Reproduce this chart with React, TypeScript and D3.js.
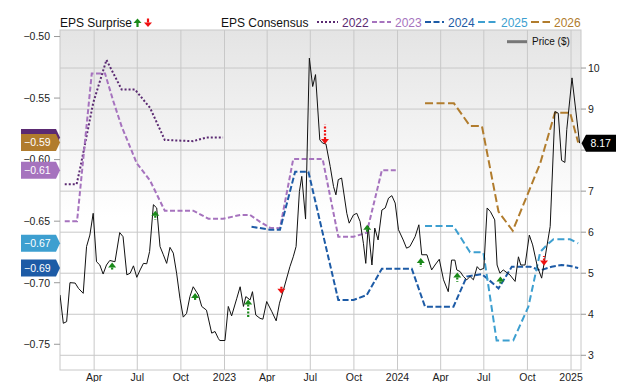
import React from "react";
import * as d3 from "d3";

const W = 640;
const H = 382;
const PL = 60, PR = 581, PT = 30, PB = 370;
const FONT = "'Liberation Sans', Arial, Helvetica, sans-serif";

// ---------- Data ----------
const priceDates = [
  "2022-01-19","2022-01-26","2022-02-02","2022-02-09","2022-02-20","2022-02-27","2022-03-09","2022-03-16","2022-03-23","2022-03-30",
  "2022-04-06","2022-04-13","2022-04-20","2022-04-27","2022-05-04","2022-05-15","2022-05-25","2022-06-01","2022-06-09","2022-06-16",
  "2022-06-23","2022-06-30","2022-07-07","2022-07-14","2022-07-21","2022-07-27","2022-08-04","2022-08-11","2022-08-18","2022-08-25",
  "2022-09-01","2022-09-08","2022-09-15","2022-09-22","2022-09-29","2022-10-06","2022-10-13","2022-10-20","2022-10-27","2022-11-07",
  "2022-11-14","2022-11-24","2022-12-05","2022-12-12","2022-12-19","2022-12-22","2023-01-02","2023-01-09","2023-01-16","2023-01-27",
  "2023-02-03","2023-02-10","2023-02-15","2023-02-24","2023-03-01","2023-03-08","2023-03-17","2023-03-23","2023-03-31","2023-04-11",
  "2023-04-20","2023-04-27","2023-05-05","2023-05-19","2023-05-26","2023-06-01","2023-06-08","2023-06-13","2023-06-21","2023-06-29",
  "2023-07-06","2023-07-12","2023-07-21","2023-07-27","2023-08-03","2023-08-12","2023-08-19","2023-08-24","2023-08-29","2023-09-05",
  "2023-09-16","2023-09-21","2023-09-30","2023-10-07","2023-10-14","2023-10-21","2023-10-26","2023-10-31","2023-11-08","2023-11-14",
  "2023-11-21","2023-11-29","2023-12-06","2023-12-13","2023-12-20","2023-12-27","2024-01-03","2024-01-13","2024-01-20","2024-01-27",
  "2024-02-07","2024-02-15","2024-02-21","2024-03-03","2024-03-13","2024-03-20","2024-03-29","2024-04-07","2024-04-17","2024-04-24",
  "2024-05-01","2024-05-05","2024-05-12","2024-05-19","2024-05-26","2024-06-02","2024-06-09","2024-06-17","2024-06-23","2024-07-01",
  "2024-07-08","2024-07-15","2024-07-24","2024-07-29","2024-08-04","2024-08-11","2024-08-25","2024-09-05","2024-09-12","2024-09-17",
  "2024-09-26","2024-10-05","2024-10-12","2024-10-22","2024-10-31","2024-11-18","2024-11-28","2024-12-05","2024-12-12","2024-12-19",
  "2024-12-23","2025-01-03","2025-01-19"
];
const priceValues = [
  4.47,3.78,3.82,4.77,4.76,4.63,4.51,5.65,5.93,6.46,
  5.28,5.20,4.98,5.20,5.31,5.28,5.99,5.89,4.96,5.00,
  5.18,4.90,5.08,5.24,5.23,5.53,6.67,6.59,5.65,5.45,
  5.24,5.63,5.49,5.00,4.39,3.93,4.02,4.43,4.67,4.47,
  4.19,4.10,3.54,3.58,3.41,3.36,3.36,4.19,3.96,4.39,
  4.67,4.19,4.43,4.35,4.55,3.98,3.90,3.88,4.31,4.06,
  3.84,4.27,4.58,5.16,5.40,5.65,6.99,7.36,6.32,10.24,
  9.55,9.84,8.25,8.17,8.15,7.60,7.11,6.91,7.28,7.32,
  6.46,6.22,6.42,6.46,6.26,5.73,5.24,6.14,5.20,6.10,
  5.81,6.54,6.59,6.83,6.89,6.71,6.06,5.81,5.61,5.65,
  5.89,6.18,5.45,5.45,5.08,5.20,5.34,4.84,4.55,5.32,
  5.32,5.08,5.04,4.92,4.84,4.92,4.84,5.16,5.08,5.12,
  6.59,6.50,6.30,5.20,5.00,5.08,4.96,4.80,5.40,5.20,
  5.20,5.93,5.69,5.16,4.88,6.14,8.94,8.90,7.75,7.70,
  8.50,9.76,8.17
];

const eps2022Dates = ["2022-01-29","2022-02-23","2022-03-02","2022-03-30","2022-04-27","2022-05-29","2022-06-26","2022-07-28","2022-08-28","2022-10-27","2022-11-24","2022-12-29"];
const eps2022Values = [-0.62,-0.62,-0.608,-0.554,-0.519,-0.543,-0.543,-0.558,-0.584,-0.585,-0.582,-0.582];

const eps2023Dates = ["2022-01-29","2022-02-24","2022-03-27","2022-04-24","2022-05-11","2022-05-29","2022-06-30","2022-07-28","2022-08-28","2022-10-27","2022-11-28","2022-12-29","2023-02-03","2023-02-24","2023-03-17","2023-04-07","2023-04-28","2023-05-26","2023-07-27","2023-08-29","2023-09-30","2023-10-28","2023-11-29","2023-12-30"];
const eps2023Values = [-0.65,-0.65,-0.53,-0.53,-0.552,-0.573,-0.603,-0.617,-0.6415,-0.6415,-0.648,-0.648,-0.645,-0.645,-0.6505,-0.6553,-0.6558,-0.5995,-0.5995,-0.6626,-0.6626,-0.6594,-0.6086,-0.6086];

const eps2024Dates = ["2023-02-27","2023-04-07","2023-04-28","2023-05-30","2023-06-27","2023-08-29","2023-09-30","2023-10-28","2023-11-29","2024-01-31","2024-02-28","2024-04-28","2024-05-26","2024-06-27","2024-07-11","2024-08-01","2024-08-29","2024-10-07","2024-10-28","2024-11-21","2024-12-12","2024-12-30","2025-01-16"];
const eps2024Values = [-0.6545,-0.657,-0.657,-0.6098,-0.6098,-0.714,-0.714,-0.71,-0.6886,-0.6886,-0.7195,-0.7195,-0.695,-0.693,-0.6975,-0.7046,-0.687,-0.687,-0.69,-0.687,-0.6856,-0.6864,-0.688];

const eps2025Dates = ["2024-02-28","2024-04-28","2024-06-02","2024-06-30","2024-07-28","2024-09-01","2024-10-03","2024-10-28","2024-11-12","2024-11-25","2024-12-30","2025-01-16"];
const eps2025Values = [-0.654,-0.654,-0.6753,-0.6753,-0.747,-0.747,-0.7195,-0.675,-0.669,-0.6647,-0.6647,-0.668];

const eps2026Dates = ["2024-02-28","2024-04-29","2024-06-02","2024-06-27","2024-08-01","2024-08-31","2024-10-28","2024-11-28","2024-12-30","2025-01-16"];
const eps2026Values = [-0.5543,-0.5543,-0.5727,-0.5727,-0.6423,-0.6578,-0.603,-0.5619,-0.5619,-0.586];

const surpriseDates = ["2022-05-09","2022-08-08","2022-10-31","2023-02-20","2023-05-01","2023-08-01","2023-10-29","2024-02-19","2024-05-06","2024-08-05","2024-11-05"];
const surpriseKinds = ["up","up","up","up","down","down","up","up","up","up","down"];
const surpriseTips = [5.26,6.52,4.52,4.36,4.50,8.15,6.18,5.37,5.02,4.92,5.19];
const surpriseTails = [5.08,6.30,4.32,3.90,4.69,8.62,6.01,5.15,4.79,4.74,5.42];

const leftTicks = [-0.75,-0.7,-0.65,-0.6,-0.55,-0.5];
const rightTicks = [3,4,5,6,7,8,9,10];

const seriesNames = ["2022","2023","2024","2025","2026"];
const seriesColors = ["#5b2a72","#a673be","#1d5ba6","#3d9fd0","#b17c2d"];
const seriesDash = ["2,2","5,2.5","6,2.5","7,3.5","8,3.5"];

// ---------- Component ----------
export default function App() {
  const parse = d3.timeParse("%Y-%m-%d");
  const x = d3.scaleTime()
    .domain([new Date(2022, 0, 19), new Date(2025, 0, 22)])
    .range([PL, PR]);
  const yL = d3.scaleLinear().domain([-0.7709, -0.4947]).range([PB, PT]);
  const yR = d3.scaleLinear().domain([2.6415, 10.927]).range([PB, PT]);

  const xTicks = x.ticks(d3.timeMonth.every(3));
  const fmtMonth = d3.timeFormat("%b");
  const fmtYear = d3.timeFormat("%Y");
  const fmt2 = d3.format(".2f");

  const priceLine = d3.line<[Date, number]>()
    .x((d) => x(d[0]))
    .y((d) => yR(d[1]));
  const priceData: [Date, number][] = priceDates.map((s, i) => [parse(s) as Date, priceValues[i]]);

  const epsLine = d3.line<[Date, number]>()
    .x((d) => x(d[0]))
    .y((d) => yL(d[1]));
  const epsSeries = [
    [eps2022Dates, eps2022Values],
    [eps2023Dates, eps2023Values],
    [eps2024Dates, eps2024Values],
    [eps2025Dates, eps2025Values],
    [eps2026Dates, eps2026Values],
  ].map(([ds, vs]) => (ds as string[]).map((s, i) => [parse(s) as Date, (vs as number[])[i]] as [Date, number]));

  // tag drawing order: 2022 (behind, hidden text), 2026, 2023, 2025, 2024
  const tagOrder = [0, 4, 1, 2, 3];

  const lastPrice = priceValues[priceValues.length - 1];
  const cP = yR(lastPrice);

  const legendItems = seriesNames.map((n, i) => ({ n, i, x0: 317 + i * 53 }));

  return (
    <svg width={W} height={H} style={{ position: "absolute", left: 0, top: 0, background: "#fff" }} fontFamily={FONT}>
      <defs>
        <linearGradient id="bg" x1="0" y1="0" x2="0" y2="1">
          <stop offset="0" stopColor="#e4e4e4" />
          <stop offset="0.55" stopColor="#ffffff" />
          <stop offset="1" stopColor="#ffffff" />
        </linearGradient>
        <clipPath id="plotClip">
          <rect x={PL} y={PT} width={PR - PL} height={PB - PT} />
        </clipPath>
      </defs>

      <rect x={PL} y={PT} width={PR - PL} height={PB - PT} fill="url(#bg)" />

      {/* grid */}
      {rightTicks.map((t) => (
        <line key={"h" + t} x1={PL} x2={PR} y1={yR(t)} y2={yR(t)} stroke="#c8c8c8" strokeWidth={1} />
      ))}
      {xTicks.map((t, i) => (
        <line key={"v" + i} x1={x(t)} x2={x(t)} y1={PT} y2={PB} stroke="#c8c8c8" strokeWidth={1} />
      ))}
      <rect x={PL} y={PT} width={PR - PL} height={PB - PT} fill="none" stroke="#c8c8c8" strokeWidth={1} />

      {/* left axis */}
      {leftTicks.map((t) => (
        <g key={"l" + t}>
          <line x1={54} x2={PL} y1={yL(t)} y2={yL(t)} stroke="#999" strokeWidth={1} />
          <text x={50} y={yL(t) + 3.8} textAnchor="end" fontSize={10.5} fill="#222">{fmt2(t)}</text>
        </g>
      ))}
      {/* right axis */}
      {rightTicks.map((t) => (
        <g key={"r" + t}>
          <line x1={PR} x2={PR + 5} y1={yR(t)} y2={yR(t)} stroke="#999" strokeWidth={1} />
          {Math.abs(yR(t) - cP) > 11 && (
            <text x={588} y={yR(t) + 3.8} fontSize={10.5} fill="#222">{t}</text>
          )}
        </g>
      ))}
      {/* bottom axis */}
      {xTicks.map((t, i) => (
        <text key={"xl" + i} x={x(t)} y={380.5} textAnchor="middle" fontSize={10.5} fill="#222">
          {t.getMonth() === 0 ? fmtYear(t) : fmtMonth(t)}
        </text>
      ))}

      {/* series */}
      <g clipPath="url(#plotClip)">
        {epsSeries.map((data, i) => (
          <path key={"s" + i} d={epsLine(data) || ""} fill="none" stroke={seriesColors[i]} strokeWidth={2}
            strokeDasharray={seriesDash[i]} />
        ))}
        <path d={priceLine(priceData) || ""} fill="none" stroke="#111" strokeWidth={1} strokeLinejoin="round" />
        {surpriseDates.map((s, i) => {
          const cx = x(parse(s) as Date);
          const tip = yR(surpriseTips[i]);
          const tail = yR(surpriseTails[i]);
          const up = surpriseKinds[i] === "up";
          const col = up ? "#1a8a1a" : "#f01010";
          const hb = up ? tip + 5 : tip - 5;
          return (
            <g key={"a" + i}>
              <line x1={cx} x2={cx} y1={hb} y2={tail} stroke={col} strokeWidth={2.2} strokeDasharray="2,1.5" />
              <path d={`M${cx - 4},${hb} L${cx + 4},${hb} L${cx},${tip} Z`} fill={col} />
            </g>
          );
        })}
      </g>

      {/* price legend */}
      <line x1={507} x2={527} y1={41.7} y2={41.7} stroke="#777" strokeWidth={3} />
      <text x={532} y={45.3} fontSize={10} fill="#111">Price ($)</text>

      {/* top legend */}
      <text x={60} y={27} fontSize={12} fill="#111">EPS Surprise</text>
      <g>
        <line x1={137.5} x2={137.5} y1={23} y2={27} stroke="#1a8a1a" strokeWidth={2.2} />
        <path d="M133.5,23 L141.5,23 L137.5,18.5 Z" fill="#1a8a1a" />
        <line x1={148} x2={148} y1={18.5} y2={22.5} stroke="#f01010" strokeWidth={2.2} />
        <path d="M144,22.5 L152,22.5 L148,27 Z" fill="#f01010" />
      </g>
      <text x={221} y={27} fontSize={12} fill="#111">EPS Consensus</text>
      {legendItems.map(({ n, i, x0 }) => (
        <g key={"lg" + n}>
          <line x1={x0 + (i === 0 ? 0 : 2)} x2={x0 + 21} y1={22} y2={22} stroke={seriesColors[i]} strokeWidth={2}
            strokeDasharray={seriesDash[i]} />
          <text x={x0 + 25} y={27} fontSize={12} fill={seriesColors[i]}>{n}</text>
        </g>
      ))}

      {/* left value tags */}
      {tagOrder.map((i) => {
        const data = epsSeries[i];
        const v = data[data.length - 1][1];
        const c = yL(v);
        return (
          <g key={"t" + i}>
            <path d={`M21,${c - 8.5} H56 L60,${c} L56,${c + 8.5} H21 Z`} fill={seriesColors[i]} />
            {i !== 0 && <text x={24} y={c + 3.8} fontSize={10.5} fill="#fff">{fmt2(v)}</text>}
          </g>
        );
      })}

      {/* right price tag */}
      <path d={`M581.5,${cP} L586,${cP - 8.5} H616 V${cP + 8.5} H586 Z`} fill="#000" />
      <text x={590.5} y={cP + 3.8} fontSize={10.5} fill="#fff">{fmt2(lastPrice)}</text>
    </svg>
  );
}
